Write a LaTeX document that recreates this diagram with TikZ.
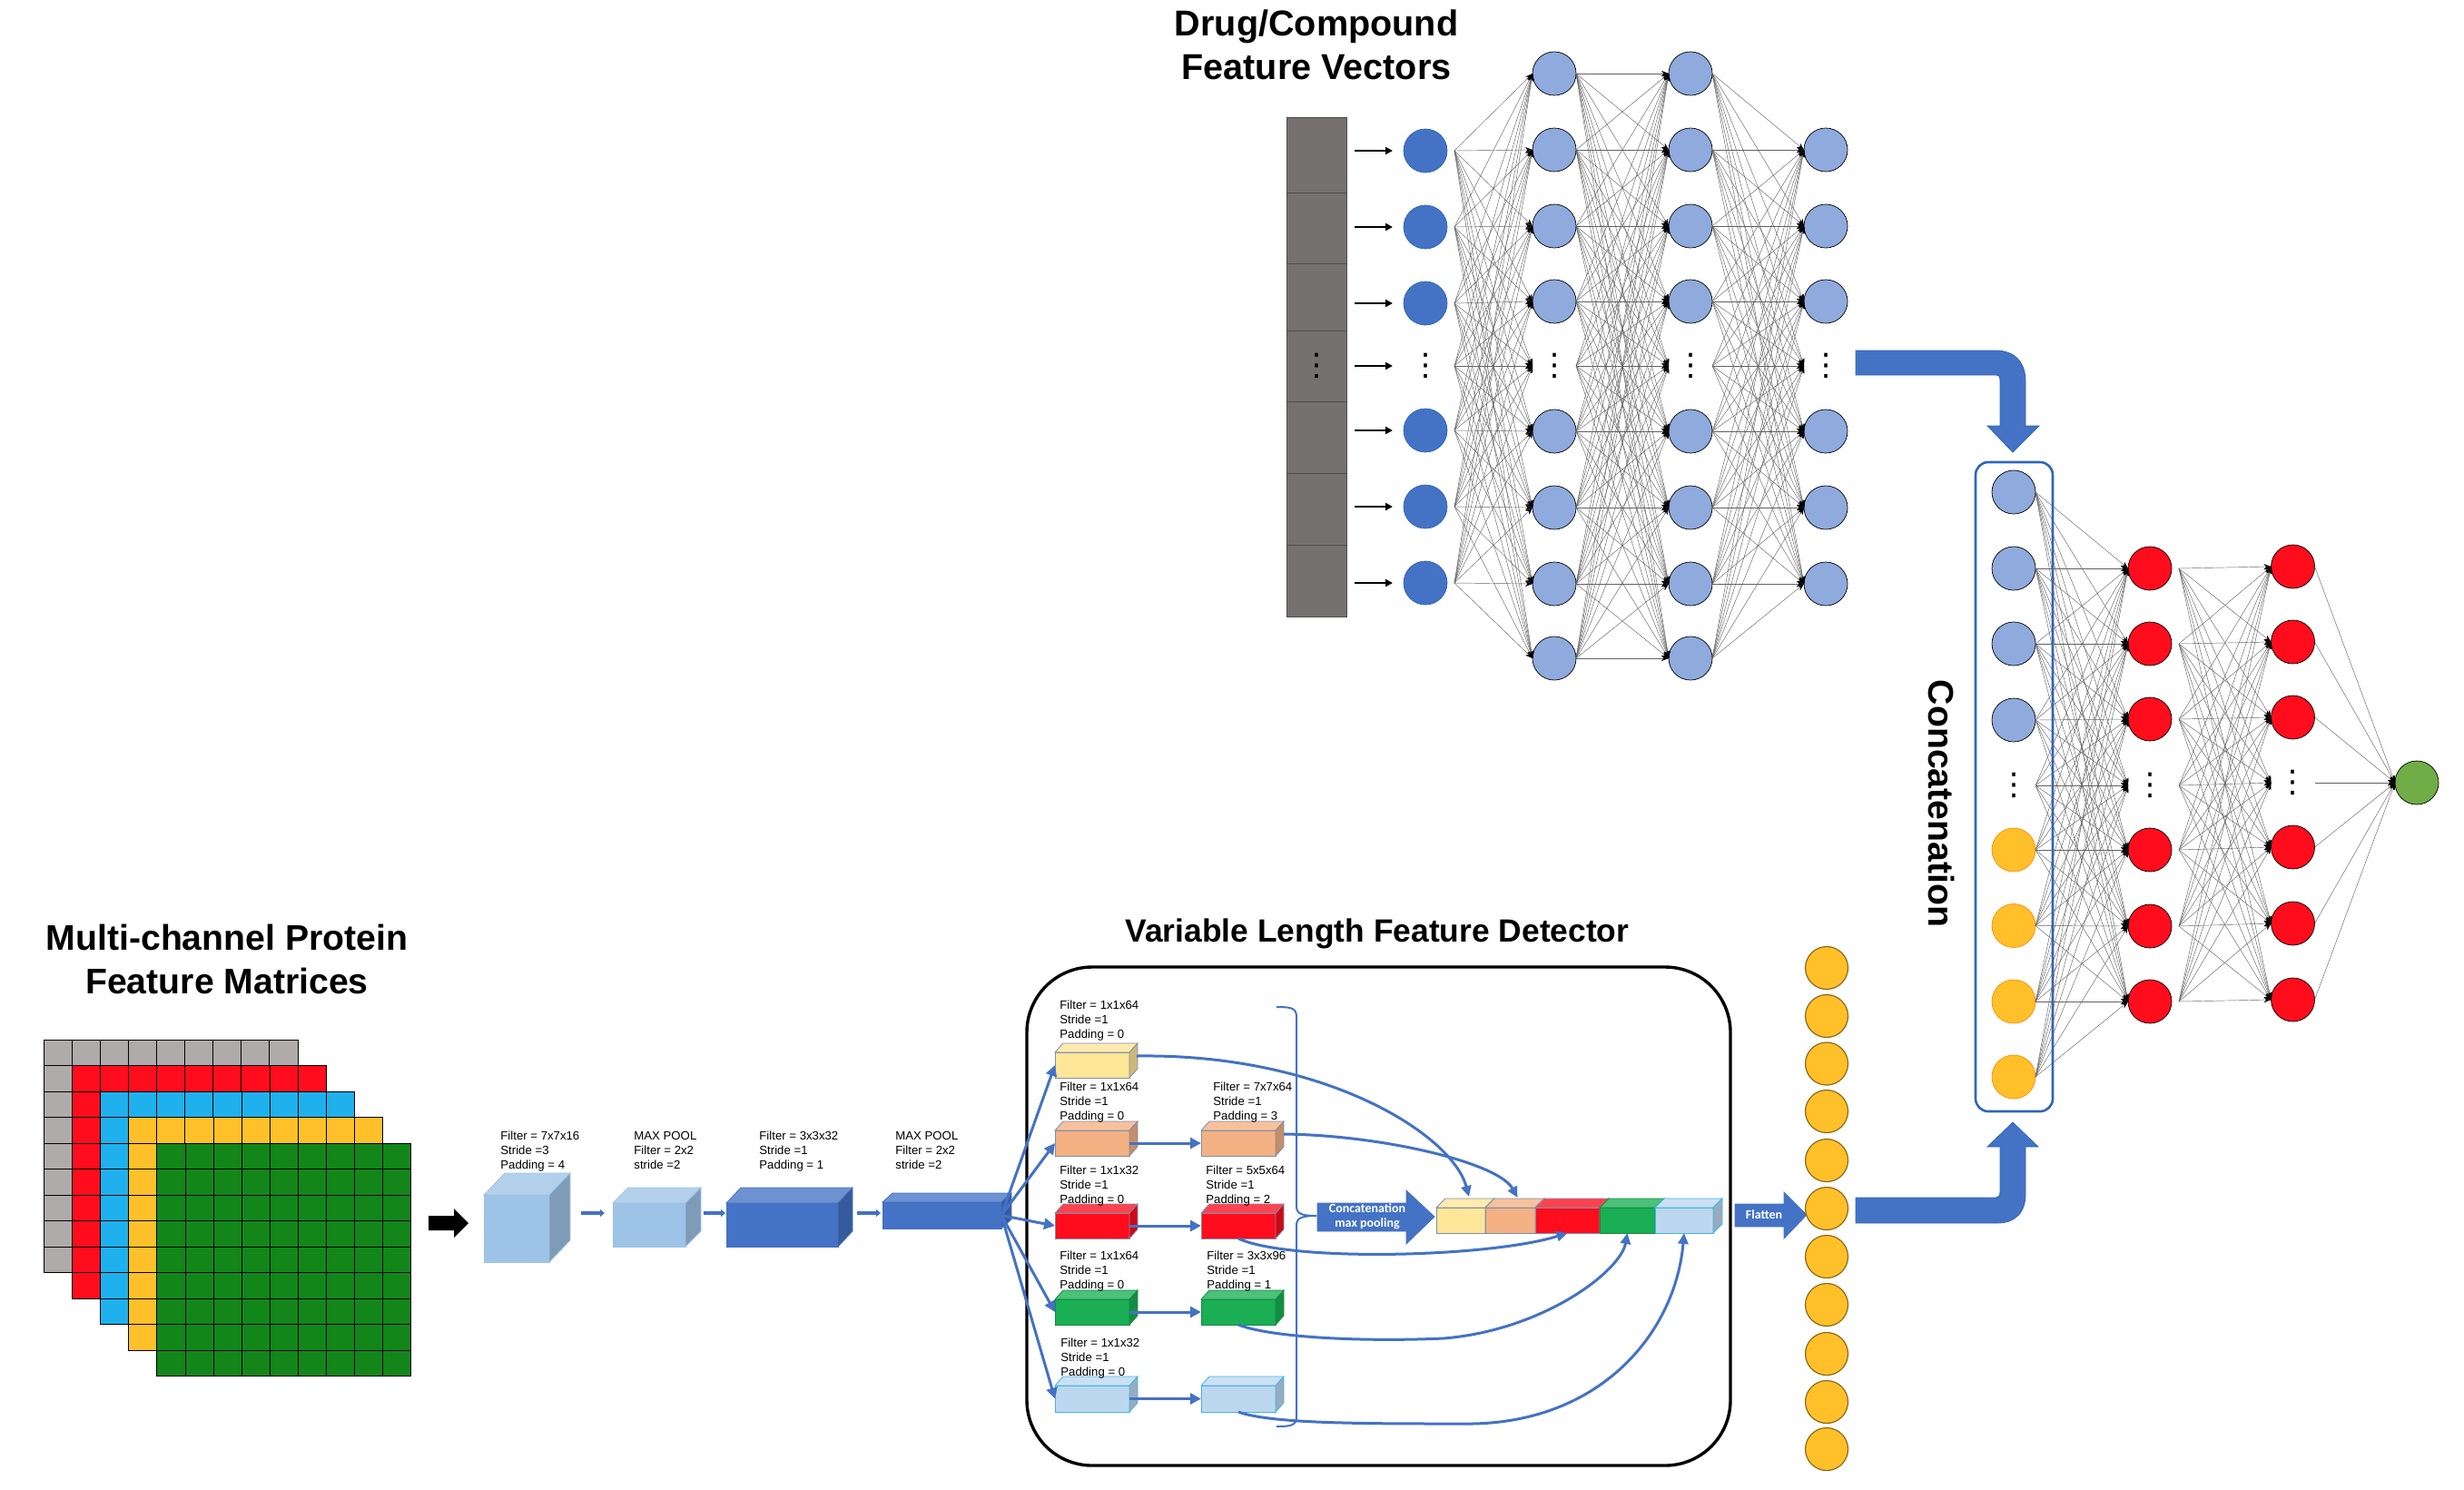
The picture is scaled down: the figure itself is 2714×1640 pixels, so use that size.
\documentclass[tikz,border=0pt]{standalone}
\usepackage{fontspec}
\setmainfont{Liberation Sans}
\newfontfamily\calib{Carlito}
\newfontfamily\dvfont{DejaVu Sans}
\usetikzlibrary{arrows.meta}
\definecolor{mblue}{HTML}{4472C4}
\definecolor{lblue}{HTML}{8FAADC}
\definecolor{cubeb}{HTML}{9DC3E6}
\definecolor{nred}{HTML}{FF0D1D}
\definecolor{nyel}{HTML}{FFC02A}
\definecolor{ngreen}{HTML}{70AD47}
\definecolor{gbar}{HTML}{767171}
\definecolor{ggray}{HTML}{AFABAB}
\definecolor{gblue}{HTML}{1FB1EE}
\definecolor{ggreen}{HTML}{13861A}
\definecolor{byel}{HTML}{FFE699}
\definecolor{bora}{HTML}{F4B183}
\definecolor{bred}{HTML}{FF0D1D}
\definecolor{bgrn}{HTML}{1AAF54}
\definecolor{bsky}{HTML}{BDD7EE}
\definecolor{eslate}{HTML}{7F8FA9}
\definecolor{ecyan}{HTML}{3DB8EA}
\definecolor{boxblue}{HTML}{2E66BC}
\tikzset{
  nn/.style={circle,minimum size=24pt,inner sep=0pt,outer sep=0pt,draw=black,line width=.35pt},
  dotnode/.style={circle,minimum size=24pt,inner sep=0pt,outer sep=0pt},
  netedge/.style={draw=black!62,line width=.22pt,-{Stealth[length=4pt,width=3pt,color=black,fill=black]}},
  flow/.style={draw=mblue,line width=1.5pt,-{Triangle[length=6pt,width=6pt]}},
  curveflow/.style={draw=mblue,line width=1.5pt,-{Triangle[length=6pt,width=5.5pt]}},
  minor/.style={draw=mblue,line width=1.6pt,-{Triangle[length=2.5pt,width=4pt]}},
  inarrow/.style={draw=black,line width=1pt,-{Triangle[length=4pt,width=4pt]}},
  bigarrow/.style={fill=mblue,draw=boxblue,line width=.4pt},
  small/.style={font=\fontsize{6.6}{8}\selectfont,align=left,inner sep=0pt,anchor=north west},
  titletext/.style={font=\bfseries\fontsize{19.6}{24}\selectfont,align=center,inner sep=0pt}
}
\newcommand{\vdtxt}{\dvfont\fontsize{17}{17}\selectfont ⋮}
% name, x, y, w, h, dx, dy, front, edge
\newcommand{\cuboid}[9]{%
  \node[anchor=north west,inner sep=0pt,outer sep=0pt,minimum width=#4*.5pt,minimum height=#5*.5pt,fill=#8,draw=#9,line width=.4pt] (#1) at (#2,#3) {};
  \draw[fill=#8!78!white,draw=#9,line width=.4pt] (#1.north west) -- ++(#6,-#7) -- ++(#4,0) -- (#1.north east) -- cycle;
  \draw[fill=#8!80!black,draw=#9,line width=.4pt] (#1.north east) -- ++(#6,-#7) -- ++(0,#5) -- (#1.south east) -- cycle;
}
\begin{document}
\begin{tikzpicture}[x=.5pt,y=-.5pt]
\path[use as bounding box] (0,0) rectangle (2714,1640);

% ---------- protein matrices
\foreach \lx/\ly/\col in {48/1145/ggray,79.2/1173.5/nred,110.4/1202/gblue,141.6/1230.5/nyel,172.8/1259/ggreen}{
  \foreach \i in {0,...,8}{\foreach \j in {0,...,8}{
    \draw[fill=\col,draw=black,line width=.4pt] ({\lx+\i*31.1},{\ly+\j*28.5}) rectangle ++(31.1,28.5);
  }}
}
\node[titletext] (ttlprot) at (250,1056) {Multi-channel Protein\\Feature Matrices};
\fill[black] (472,1339) -- (500,1339) -- (500,1331) -- (516,1347) -- (500,1363) -- (500,1355) -- (472,1355) -- cycle;

% ---------- first cuboids
\cuboid{cA}{533}{1316}{72}{74}{23}{24}{cubeb}{cubeb}
\cuboid{cB}{675}{1325}{80}{48}{17}{17}{cubeb}{cubeb}
\cuboid{cC}{800}{1325}{123}{48}{16}{17}{mblue}{mblue}
\cuboid{cD}{972}{1324}{131}{29}{11}{10}{mblue}{mblue}
\coordinate (aAs) at (640,1336); \coordinate (aAe) at (666,1336);
\coordinate (aBs) at (775,1336); \coordinate (aBe) at (799,1336);
\coordinate (aCs) at (944,1336); \coordinate (aCe) at (970,1336);
\draw[minor] (aAs) -- (aAe);
\draw[minor] (aBs) -- (aBe);
\draw[minor] (aCs) -- (aCe);
\node[small] (tA) at (551,1246) {Filter = 7x7x16\\Stride =3\\Padding = 4};
\node[small] (tB) at (698,1246) {MAX POOL\\Filter = 2x2\\stride =2};
\node[small] (tC) at (836,1246) {Filter = 3x3x32\\Stride =1\\Padding = 1};
\node[small] (tD) at (986,1246) {MAX POOL\\Filter = 2x2\\stride =2};

% ---------- variable length feature detector
\node[titletext,font=\bfseries\fontsize{17.7}{22}\selectfont] (ttlvar) at (1517,1028) {Variable Length Feature Detector};
\draw[black,line width=1.7pt,rounded corners=36pt] (1131,1065) rectangle (1906,1614);

\cuboid{y1}{1162}{1159}{82}{28}{9}{10}{byel}{eslate}
\cuboid{o1}{1162}{1245}{82}{28}{9}{10}{bora}{eslate}
\cuboid{o2}{1323}{1245}{82}{28}{9}{10}{bora}{eslate}
\cuboid{r1}{1162}{1336}{82}{28}{9}{10}{bred}{eslate}
\cuboid{r2}{1323}{1336}{82}{28}{9}{10}{bred}{eslate}
\cuboid{g1}{1162}{1431}{82}{28}{9}{10}{bgrn}{bgrn!80!black}
\cuboid{g2}{1323}{1431}{82}{28}{9}{10}{bgrn}{bgrn!80!black}
\cuboid{b1}{1162}{1526}{82}{29}{9}{10}{bsky}{ecyan}
\cuboid{b2}{1323}{1526}{82}{29}{9}{10}{bsky}{ecyan}

\node[small] (ty1) at (1167,1102) {Filter = 1x1x64\\Stride =1\\Padding = 0};
\node[small] (to1) at (1167,1192) {Filter = 1x1x64\\Stride =1\\Padding = 0};
\node[small] (to2) at (1336,1192) {Filter = 7x7x64\\Stride =1\\Padding = 3};
\node[small] (tr1) at (1167,1284) {Filter = 1x1x32\\Stride =1\\Padding = 0};
\node[small] (tr2) at (1328,1284) {Filter = 5x5x64\\Stride =1\\Padding = 2};
\node[small] (tg1) at (1167,1378) {Filter = 1x1x64\\Stride =1\\Padding = 0};
\node[small] (tg2) at (1329,1378) {Filter = 3x3x96\\Stride =1\\Padding = 1};
\node[small] (tb1) at (1168,1474) {Filter = 1x1x32\\Stride =1\\Padding = 0};

\foreach \t in {y1,o1,r1,g1,b1}{\draw[flow] (cD.east) -- (\t.west);}
\draw[flow] (o1.east) -- (o2.west);
\draw[flow] (r1.east) -- (r2.west);
\draw[flow] (g1.east) -- (g2.west);
\draw[flow] (b1.east) -- (b2.west);

% brace
\coordinate (brTop) at (1406,1109);
\coordinate (brBot) at (1406,1571);
\coordinate (brTip) at (1450,1339);
\draw[draw=mblue,line width=1pt] (brTop) .. controls (1422,1109) and (1428,1110) .. (1428,1120) -- (1428,1328) .. controls (1428,1336) and (1432,1339) .. (brTip);
\draw[draw=mblue,line width=1pt] (brBot) .. controls (1422,1571) and (1428,1570) .. (1428,1560) -- (1428,1350) .. controls (1428,1342) and (1432,1339) .. (brTip);

% concat arrow
\draw[bigarrow,draw=mblue] (1451,1325) -- (1549,1325) -- (1549,1311) -- (1580,1340) -- (1549,1370) -- (1549,1356) -- (1451,1356) -- cycle;
\node[font=\calib\bfseries\fontsize{7}{8}\selectfont,text=white,align=center,inner sep=0pt] (tcm) at (1506,1340) {Concatenation\\max pooling};

% concatenated block
\cuboid{c1}{1582}{1330}{54}{28}{10}{10}{byel}{eslate}
\cuboid{c2}{1636}{1330}{55}{28}{10}{10}{bora}{eslate}
\cuboid{c3}{1691}{1330}{71}{28}{10}{10}{bred}{eslate}
\cuboid{c4}{1762}{1330}{61}{28}{10}{10}{bgrn}{bgrn!80!black}
\cuboid{c5}{1823}{1330}{64}{28}{10}{10}{bsky}{ecyan}

\draw[curveflow] ([shift={(8,-10)}]y1.east) .. controls (1460,1160) and (1600,1250) .. ([shift={(9,-12)}]c1.north);
\draw[curveflow] ([shift={(9,-10)}]o2.east) .. controls (1520,1250) and (1650,1280) .. ([shift={(8,-11)}]c2.north);
\draw[curveflow] (r2.south) .. controls (1420,1390) and (1640,1385) .. (c3.south);
\draw[curveflow] (g2.south) .. controls (1400,1473) and (1500,1478) .. (1590,1474) .. controls (1700,1465) and (1785,1400) .. (c4.south);
\draw[curveflow] (b2.south) .. controls (1400,1568) and (1500,1568) .. (1612,1568) .. controls (1760,1570) and (1845,1470) .. (c5.south);

% flatten
\draw[bigarrow,draw=mblue] (1911,1326) -- (1965,1326) -- (1965,1313) -- (1990,1338) -- (1965,1364) -- (1965,1351) -- (1911,1351) -- cycle;
\node[font=\calib\bfseries\fontsize{7}{8}\selectfont,text=white,inner sep=0pt] (tfl) at (1943,1338) {Flatten};

% yellow column
\foreach \i/\y in {1/1066,2/1119,3/1171.5,4/1224,5/1278,6/1331,7/1384,8/1437,9/1491,10/1544,11/1596}{
  \node[nn,minimum size=23.5pt,fill=nyel,draw=black!45!nyel,line width=.6pt] (f\i) at (2012,\y) {};
}

% ---------- drug branch
\node[titletext,font=\bfseries\fontsize{19.8}{24}\selectfont] (ttldrug) at (1450,49) {Drug/Compound\\Feature Vectors};
\foreach \n/\a/\b in {1/129/212,2/212/290.5,3/290.5/364,4/364/442,5/442/521,6/521/600,7/600/679}{
  \draw[fill=gbar,draw=black!70,line width=.4pt] (1417,\a) rectangle (1483.5,\b);
}
\node[inner sep=0pt] (bardots) at (1450,403) {\vdtxt};

\foreach \i/\y in {1/166,2/250,3/334,5/474,6/558,7/642}{\node[nn,fill=mblue,draw=boxblue] (a\i) at (1570,\y) {};}
\node[dotnode] (a4) at (1570,403) {\vdtxt};
\foreach \i/\y in {1/81,2/165,3/249,4/332,6/475,7/559,8/643,9/725}{
  \node[nn,fill=lblue] (b\i) at (1712,\y) {};
  \node[nn,fill=lblue] (c\i) at (1862,\y) {};
}
\node[dotnode] (b5) at (1712,403) {\vdtxt};
\node[dotnode] (c5) at (1862,403) {\vdtxt};
\foreach \i/\y in {1/165,2/249,3/332,5/475,6/559,7/643}{\node[nn,fill=lblue] (d\i) at (2011,\y) {};}
\node[dotnode] (d4) at (2011,403) {\vdtxt};

\foreach \i in {1,...,7}{
  \draw[inarrow,shorten >=6pt] ([xshift=-27pt]a\i.west) -- (a\i.west);
  \foreach \j in {1,...,9}{
    \draw[netedge] ([xshift=4pt]a\i.east) -- (b\j.west);
  }
}
\foreach \i in {1,...,9}{\foreach \j in {1,...,9}{
  \draw[netedge] (b\i.east) -- (c\j.west);
}}
\foreach \i in {1,...,9}{\foreach \j in {1,...,7}{
  \draw[netedge] (c\i.east) -- (d\j.west);
}}

% ---------- elbow arrows
\draw[bigarrow] (2044,386) -- (2198,386) .. controls (2220,386) and (2231,400) .. (2231,420) -- (2231,469) -- (2246,469) -- (2217,498) -- (2189,469) -- (2203,469) -- (2203,418) .. controls (2203,415) and (2202,413) .. (2199,413) -- (2044,413) -- cycle;
\draw[bigarrow] (2044,1347) -- (2200,1347) .. controls (2220,1347) and (2231,1335) .. (2231,1315) -- (2231,1263) -- (2245,1263) -- (2217,1236) -- (2189,1263) -- (2203,1263) -- (2203,1313) .. controls (2203,1317) and (2201,1319) .. (2198,1319) -- (2044,1319) -- cycle;

% ---------- fusion net
\node[titletext,rotate=-90] (ttlconc) at (2138,885) {Concatenation};
\node[draw=boxblue,line width=1.3pt,rounded corners=7pt,minimum width=42.5pt,minimum height=357.5pt,inner sep=0pt] (concbox) at (2218.5,866.5) {};
\foreach \i/\y in {1/542,2/626,3/709,4/793}{\node[nn,fill=lblue] (p\i) at (2218,\y) {};}
\node[dotnode] (p5) at (2218,865) {\vdtxt};
\foreach \i/\y in {6/936,7/1019.5,8/1103,9/1186}{\node[nn,fill=nyel,draw=orange!80!nyel] (p\i) at (2218,\y) {};}
\foreach \i/\y in {1/626,2/709,3/792,5/936,6/1020,7/1103}{\node[nn,fill=nred] (q\i) at (2368,\y) {};}
\node[dotnode] (q4) at (2368,865) {\vdtxt};
\foreach \i/\y in {1/624,2/707,3/790,5/933,6/1017,7/1101}{\node[nn,fill=nred] (s\i) at (2525.5,\y) {};}
\node[dotnode] (s4) at (2525.5,862) {\vdtxt};
\node[nn,fill=ngreen] (out) at (2662,862) {};

\foreach \i in {1,...,9}{\foreach \j in {1,...,7}{
  \draw[netedge] (p\i.east) -- (q\j.west);
}}
\foreach \i in {1,...,7}{
  \foreach \j in {1,...,7}{
    \draw[netedge] ([xshift=4pt]q\i.east) -- (s\j.west);
  }
  \draw[netedge] (s\i.east) -- (out.west);
}
\end{tikzpicture}
\end{document}
